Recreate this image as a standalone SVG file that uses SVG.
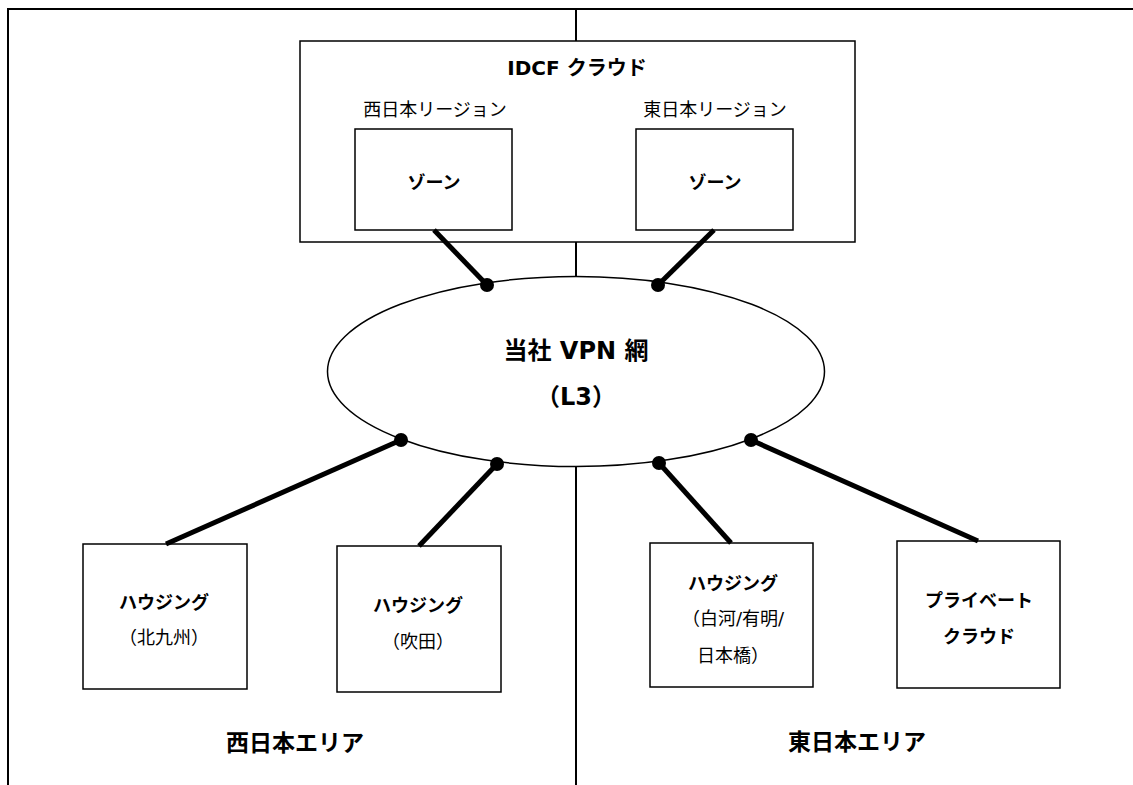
<svg xmlns="http://www.w3.org/2000/svg" width="1133" height="785" viewBox="0 0 1133 785">
  <style>
    text { font-family: "DejaVu Sans", "Noto Sans CJK JP", sans-serif; fill: #000; text-anchor: middle; dominant-baseline: central; }
    .b { font-weight: bold; }
    .r { font-size: 18px; }
    .box { fill: #fff; stroke: #000; stroke-width: 1.5; }
    .frame { fill: none; stroke: #000; stroke-width: 2; }
    .conn { stroke: #000; stroke-width: 5; stroke-linecap: butt; fill: none; }
    .dot { fill: #000; }
  </style>

  <g id="frame">
    <polyline class="frame" points="8,785 8,9 1133,9"/>
    <line class="frame" x1="576" y1="9" x2="576" y2="41"/>
    <line class="frame" x1="576" y1="242" x2="576" y2="277"/>
    <line class="frame" x1="576" y1="466" x2="576" y2="785"/>
  </g>

  <g id="idcf-cloud">
    <rect class="box" x="300" y="41" width="555" height="201"/>
    <text class="b" x="577" y="68" font-size="20">IDCF クラウド</text>
    <text class="r" x="435" y="109">西日本リージョン</text>
    <text class="r" x="715" y="109">東日本リージョン</text>
  </g>

  <g id="zone-west">
    <rect class="box" x="355" y="129" width="157" height="101"/>
    <text class="b r" x="434" y="182">ゾーン</text>
  </g>

  <g id="zone-east">
    <rect class="box" x="636" y="129" width="157" height="101"/>
    <text class="b r" x="715" y="182">ゾーン</text>
  </g>

  <g id="vpn">
    <ellipse cx="576" cy="371.5" rx="248.5" ry="95" fill="#fff" stroke="#000" stroke-width="1.5"/>
    <text class="b" x="576" y="351" font-size="24">当社 VPN 網</text>
    <text class="b" x="576" y="397" font-size="24">（L3）</text>
  </g>

  <g id="housing-kitakyushu">
    <rect class="box" x="83" y="544" width="164" height="145"/>
    <text class="b r" x="164" y="602">ハウジング</text>
    <text class="r" x="164" y="637">（北九州）</text>
  </g>

  <g id="housing-suita">
    <rect class="box" x="337" y="546" width="164" height="146"/>
    <text class="b r" x="418" y="605">ハウジング</text>
    <text class="r" x="418" y="641">（吹田）</text>
  </g>

  <g id="housing-east">
    <rect class="box" x="650" y="543" width="163" height="144"/>
    <text class="b r" x="733" y="583">ハウジング</text>
    <text class="r" x="733" y="618">（白河/有明/</text>
    <text class="r" x="733" y="655">日本橋）</text>
  </g>

  <g id="private-cloud">
    <rect class="box" x="897" y="541" width="163" height="147"/>
    <text class="b r" x="979" y="600">プライベート</text>
    <text class="b r" x="979" y="636">クラウド</text>
  </g>

  <g id="area-labels">
    <text class="b" x="295" y="743" font-size="23">西日本エリア</text>
    <text class="b" x="857" y="742" font-size="23">東日本エリア</text>
  </g>

  <g id="connectors">
    <line class="conn" x1="434" y1="230" x2="487" y2="285"/>
    <line class="conn" x1="714" y1="230" x2="658" y2="285"/>
    <line class="conn" x1="401" y1="440" x2="166" y2="544"/>
    <line class="conn" x1="497" y1="464" x2="419" y2="546"/>
    <line class="conn" x1="659" y1="463" x2="731" y2="543"/>
    <line class="conn" x1="751" y1="440" x2="978" y2="541"/>
    <circle class="dot" cx="487" cy="285" r="7"/>
    <circle class="dot" cx="658" cy="285" r="7"/>
    <circle class="dot" cx="401" cy="440" r="7"/>
    <circle class="dot" cx="497" cy="464" r="7"/>
    <circle class="dot" cx="659" cy="463" r="7"/>
    <circle class="dot" cx="751" cy="440" r="7"/>
  </g>
</svg>
